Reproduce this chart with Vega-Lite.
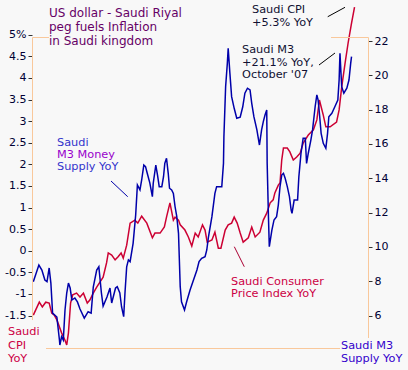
{
  "$schema": "https://vega.github.io/schema/vega-lite/v6.json",
  "autosize": {"type": "none"},
  "width": 336,
  "height": 344,
  "padding": {"left": 32.5, "top": 4.5, "right": 39.5, "bottom": 21.5},
  "background": "#f8f8f8",
  "config": {
    "view": {"stroke": null},
    "axis": {"translate": 0, "grid": false, "domain": false, "labelFont": "DejaVu Sans", "labelColor": "#000033", "tickColor": "#333333", "title": null, "labelOverlap": false, "labelFlush": false},
    "text": {"font": "DejaVu Sans"}
  },
  "datasets": {
    "cpi": [
      {"year": 2000.33, "cpi": -1.48}, {"year": 2000.47, "cpi": -1.18}, {"year": 2000.54, "cpi": -1.29}, {"year": 2000.62, "cpi": -1.18},
      {"year": 2000.70, "cpi": -1.20}, {"year": 2000.76, "cpi": -1.43}, {"year": 2000.82, "cpi": -1.48}, {"year": 2000.88, "cpi": -1.59},
      {"year": 2000.99, "cpi": -1.89}, {"year": 2001.07, "cpi": -2.06}, {"year": 2001.11, "cpi": -2.17}, {"year": 2001.15, "cpi": -1.89},
      {"year": 2001.20, "cpi": -1.20}, {"year": 2001.25, "cpi": -1.01}, {"year": 2001.34, "cpi": -0.97}, {"year": 2001.42, "cpi": -1.06},
      {"year": 2001.50, "cpi": -0.97}, {"year": 2001.59, "cpi": -1.20}, {"year": 2001.65, "cpi": -1.13}, {"year": 2001.73, "cpi": -0.97},
      {"year": 2001.81, "cpi": -0.83}, {"year": 2001.96, "cpi": -0.60}, {"year": 2002.04, "cpi": -0.27}, {"year": 2002.08, "cpi": -0.04},
      {"year": 2002.16, "cpi": -0.09}, {"year": 2002.24, "cpi": -0.20}, {"year": 2002.31, "cpi": -0.13}, {"year": 2002.38, "cpi": -0.04},
      {"year": 2002.43, "cpi": -0.16}, {"year": 2002.51, "cpi": 0.14}, {"year": 2002.59, "cpi": 0.65}, {"year": 2002.70, "cpi": 0.72},
      {"year": 2002.77, "cpi": 0.65}, {"year": 2002.86, "cpi": 0.81}, {"year": 2002.98, "cpi": 0.65}, {"year": 2003.11, "cpi": 0.31},
      {"year": 2003.17, "cpi": 0.42}, {"year": 2003.29, "cpi": 0.42}, {"year": 2003.39, "cpi": 0.56}, {"year": 2003.44, "cpi": 0.79},
      {"year": 2003.52, "cpi": 1.12}, {"year": 2003.60, "cpi": 0.72}, {"year": 2003.64, "cpi": 0.79}, {"year": 2003.72, "cpi": 0.72},
      {"year": 2003.76, "cpi": 0.61}, {"year": 2003.87, "cpi": 0.49}, {"year": 2003.95, "cpi": 0.33}, {"year": 2004.03, "cpi": 0.12},
      {"year": 2004.11, "cpi": 0.42}, {"year": 2004.18, "cpi": 0.33}, {"year": 2004.28, "cpi": 0.61}, {"year": 2004.34, "cpi": 0.49},
      {"year": 2004.39, "cpi": 0.21}, {"year": 2004.50, "cpi": 0.26}, {"year": 2004.57, "cpi": 0.44}, {"year": 2004.65, "cpi": 0.07},
      {"year": 2004.71, "cpi": 0.07}, {"year": 2004.81, "cpi": 0.49}, {"year": 2004.88, "cpi": 0.61}, {"year": 2004.96, "cpi": 0.65},
      {"year": 2005.02, "cpi": 0.79}, {"year": 2005.09, "cpi": 0.65}, {"year": 2005.16, "cpi": 0.42}, {"year": 2005.23, "cpi": 0.21},
      {"year": 2005.35, "cpi": 0.31}, {"year": 2005.43, "cpi": 0.56}, {"year": 2005.51, "cpi": 0.33}, {"year": 2005.62, "cpi": 0.44},
      {"year": 2005.70, "cpi": 0.72}, {"year": 2005.78, "cpi": 0.88}, {"year": 2005.86, "cpi": 1.12}, {"year": 2005.93, "cpi": 1.19},
      {"year": 2005.97, "cpi": 1.35}, {"year": 2006.05, "cpi": 1.53}, {"year": 2006.09, "cpi": 1.58}, {"year": 2006.13, "cpi": 2.11},
      {"year": 2006.17, "cpi": 2.39}, {"year": 2006.26, "cpi": 2.39}, {"year": 2006.32, "cpi": 2.30}, {"year": 2006.40, "cpi": 2.11},
      {"year": 2006.48, "cpi": 2.18}, {"year": 2006.56, "cpi": 2.27}, {"year": 2006.63, "cpi": 2.50}, {"year": 2006.75, "cpi": 2.69},
      {"year": 2006.87, "cpi": 2.81}, {"year": 2006.95, "cpi": 3.04}, {"year": 2007.01, "cpi": 3.50}, {"year": 2007.10, "cpi": 3.15},
      {"year": 2007.16, "cpi": 2.88}, {"year": 2007.26, "cpi": 2.88}, {"year": 2007.41, "cpi": 2.99}, {"year": 2007.47, "cpi": 3.27},
      {"year": 2007.53, "cpi": 3.80}, {"year": 2007.61, "cpi": 4.36}, {"year": 2007.68, "cpi": 4.82}, {"year": 2007.76, "cpi": 5.28},
      {"year": 2007.83, "cpi": 5.65}
    ],
    "m3": [
      {"year": 2000.33, "m3": 8.00}, {"year": 2000.46, "m3": 8.97}, {"year": 2000.53, "m3": 8.68}, {"year": 2000.60, "m3": 8.10},
      {"year": 2000.65, "m3": 8.00}, {"year": 2000.70, "m3": 8.80}, {"year": 2000.74, "m3": 7.92}, {"year": 2000.78, "m3": 6.17},
      {"year": 2000.88, "m3": 5.94}, {"year": 2000.94, "m3": 4.60}, {"year": 2000.95, "m3": 4.31}, {"year": 2000.99, "m3": 4.79},
      {"year": 2001.03, "m3": 4.60}, {"year": 2001.07, "m3": 6.35}, {"year": 2001.11, "m3": 7.34}, {"year": 2001.15, "m3": 7.92},
      {"year": 2001.19, "m3": 7.63}, {"year": 2001.23, "m3": 6.93}, {"year": 2001.30, "m3": 7.05}, {"year": 2001.36, "m3": 6.82},
      {"year": 2001.42, "m3": 6.41}, {"year": 2001.52, "m3": 5.88}, {"year": 2001.61, "m3": 6.25}, {"year": 2001.68, "m3": 6.17},
      {"year": 2001.73, "m3": 7.69}, {"year": 2001.81, "m3": 8.68}, {"year": 2001.86, "m3": 8.87}, {"year": 2001.92, "m3": 7.34},
      {"year": 2001.96, "m3": 6.58}, {"year": 2002.05, "m3": 7.11}, {"year": 2002.12, "m3": 7.63}, {"year": 2002.16, "m3": 6.76},
      {"year": 2002.25, "m3": 7.63}, {"year": 2002.29, "m3": 7.71}, {"year": 2002.35, "m3": 7.34}, {"year": 2002.39, "m3": 6.54},
      {"year": 2002.44, "m3": 5.96}, {"year": 2002.47, "m3": 7.34}, {"year": 2002.51, "m3": 8.87}, {"year": 2002.55, "m3": 9.27},
      {"year": 2002.59, "m3": 9.17}, {"year": 2002.66, "m3": 10.24}, {"year": 2002.72, "m3": 11.89}, {"year": 2002.76, "m3": 13.64},
      {"year": 2002.82, "m3": 13.35}, {"year": 2002.86, "m3": 13.93}, {"year": 2002.91, "m3": 14.80}, {"year": 2002.95, "m3": 14.71},
      {"year": 2002.99, "m3": 14.32}, {"year": 2003.05, "m3": 13.76}, {"year": 2003.11, "m3": 12.96}, {"year": 2003.13, "m3": 13.74},
      {"year": 2003.19, "m3": 14.80}, {"year": 2003.23, "m3": 14.22}, {"year": 2003.27, "m3": 13.54}, {"year": 2003.33, "m3": 13.54},
      {"year": 2003.37, "m3": 14.12}, {"year": 2003.40, "m3": 14.90}, {"year": 2003.44, "m3": 15.20}, {"year": 2003.48, "m3": 14.32},
      {"year": 2003.51, "m3": 13.45}, {"year": 2003.56, "m3": 13.35}, {"year": 2003.60, "m3": 13.15}, {"year": 2003.64, "m3": 12.37},
      {"year": 2003.68, "m3": 11.79}, {"year": 2003.72, "m3": 10.82}, {"year": 2003.74, "m3": 9.27}, {"year": 2003.76, "m3": 7.71},
      {"year": 2003.79, "m3": 6.83}, {"year": 2003.86, "m3": 6.35}, {"year": 2003.91, "m3": 6.83}, {"year": 2003.99, "m3": 7.52},
      {"year": 2004.07, "m3": 8.10}, {"year": 2004.15, "m3": 8.68}, {"year": 2004.20, "m3": 9.17}, {"year": 2004.26, "m3": 9.36},
      {"year": 2004.34, "m3": 9.46}, {"year": 2004.38, "m3": 9.85}, {"year": 2004.42, "m3": 10.62}, {"year": 2004.50, "m3": 11.79},
      {"year": 2004.57, "m3": 13.15}, {"year": 2004.61, "m3": 13.54}, {"year": 2004.73, "m3": 13.54}, {"year": 2004.77, "m3": 14.90},
      {"year": 2004.78, "m3": 16.45}, {"year": 2004.82, "m3": 19.37}, {"year": 2004.86, "m3": 20.73}, {"year": 2004.88, "m3": 21.61},
      {"year": 2004.92, "m3": 20.15}, {"year": 2004.96, "m3": 18.79}, {"year": 2005.02, "m3": 18.11}, {"year": 2005.08, "m3": 17.53},
      {"year": 2005.16, "m3": 17.59}, {"year": 2005.22, "m3": 18.20}, {"year": 2005.27, "m3": 18.99}, {"year": 2005.33, "m3": 19.28},
      {"year": 2005.39, "m3": 19.18}, {"year": 2005.43, "m3": 18.40}, {"year": 2005.48, "m3": 17.62}, {"year": 2005.55, "m3": 16.85},
      {"year": 2005.61, "m3": 15.97}, {"year": 2005.66, "m3": 16.85}, {"year": 2005.70, "m3": 17.33}, {"year": 2005.74, "m3": 17.72},
      {"year": 2005.78, "m3": 18.01}, {"year": 2005.79, "m3": 14.90}, {"year": 2005.82, "m3": 11.79}, {"year": 2005.84, "m3": 10.04},
      {"year": 2005.90, "m3": 11.01}, {"year": 2005.95, "m3": 11.60}, {"year": 2006.01, "m3": 11.79}, {"year": 2006.05, "m3": 12.47},
      {"year": 2006.09, "m3": 13.54}, {"year": 2006.13, "m3": 14.22}, {"year": 2006.17, "m3": 14.32}, {"year": 2006.21, "m3": 14.03},
      {"year": 2006.26, "m3": 13.54}, {"year": 2006.31, "m3": 12.96}, {"year": 2006.35, "m3": 12.18}, {"year": 2006.37, "m3": 11.99},
      {"year": 2006.42, "m3": 12.76}, {"year": 2006.50, "m3": 12.76}, {"year": 2006.53, "m3": 14.12}, {"year": 2006.58, "m3": 15.49},
      {"year": 2006.63, "m3": 16.36}, {"year": 2006.68, "m3": 16.36}, {"year": 2006.71, "m3": 14.90}, {"year": 2006.75, "m3": 15.49},
      {"year": 2006.81, "m3": 16.26}, {"year": 2006.85, "m3": 16.85}, {"year": 2006.91, "m3": 18.20}, {"year": 2006.95, "m3": 18.89},
      {"year": 2006.98, "m3": 18.59}, {"year": 2007.01, "m3": 17.82}, {"year": 2007.05, "m3": 16.65}, {"year": 2007.10, "m3": 16.07},
      {"year": 2007.16, "m3": 15.78}, {"year": 2007.20, "m3": 16.65}, {"year": 2007.23, "m3": 17.62}, {"year": 2007.30, "m3": 17.82},
      {"year": 2007.37, "m3": 18.20}, {"year": 2007.44, "m3": 18.59}, {"year": 2007.47, "m3": 19.76}, {"year": 2007.49, "m3": 21.32},
      {"year": 2007.53, "m3": 19.37}, {"year": 2007.58, "m3": 18.99}, {"year": 2007.65, "m3": 19.28}, {"year": 2007.70, "m3": 19.76},
      {"year": 2007.74, "m3": 20.73}, {"year": 2007.76, "m3": 21.12}
    ]
  },
  "resolve": {"scale": {"y": "independent"}},
  "layer": [
    {
      "data": {"name": "cpi"},
      "mark": {"type": "line", "color": "#cc0033", "strokeWidth": 1.5},
      "encoding": {
        "x": {"field": "year", "type": "quantitative", "scale": {"domain": [2000.311, 2008.156], "nice": false, "zero": false},
              "axis": {"values": [2001, 2002, 2003, 2004, 2005, 2006, 2007], "format": "d", "tickSize": 3, "labelPadding": 2, "labelFontSize": 10.5}},
        "y": {"field": "cpi", "type": "quantitative", "scale": {"domain": [-2.252, 5.711], "nice": false, "zero": false},
              "axis": {"orient": "left", "values": [-1.5, -1, -0.5, 0, 0.5, 1, 1.5, 2, 2.5, 3, 3.5, 4, 4.5, 5], "tickSize": 4, "labelPadding": 2, "labelFontSize": 11,
                       "labelExpr": "datum.value == 5 ? '5%' : (datum.value < 0 ? '-' : '') + format(abs(datum.value), '')"}}
      }
    },
    {
      "data": {"name": "m3"},
      "mark": {"type": "line", "color": "#0000aa", "strokeWidth": 1.5},
      "encoding": {
        "x": {"field": "year", "type": "quantitative", "scale": {"domain": [2000.311, 2008.156], "nice": false, "zero": false}},
        "y": {"field": "m3", "type": "quantitative", "scale": {"domain": [4.105, 24.163], "nice": false, "zero": false},
              "axis": {"orient": "right", "values": [6, 8, 10, 12, 14, 16, 18, 20, 22], "format": "d", "tickSize": 4, "labelPadding": 2, "labelFontSize": 11}}
      }
    },
    {
      "data": {"values": [{}]},
      "layer": [
        {"mark": {"type": "rule", "color": "#f9c89b", "strokeWidth": 1},
         "encoding": {"x": {"datum": 2000.311, "type": "quantitative", "scale": {"domain": [2000.311, 2008.156], "nice": false, "zero": false}, "axis": null},
                      "y": {"datum": 4.947, "type": "quantitative", "scale": {"domain": [-2.252, 5.711], "nice": false, "zero": false}, "axis": null},
                      "y2": {"datum": -1.593}}},
        {"mark": {"type": "rule", "color": "#f9c89b", "strokeWidth": 1},
         "encoding": {"x": {"datum": 2008.156, "type": "quantitative", "axis": null},
                      "y": {"datum": 4.947, "type": "quantitative", "axis": null},
                      "y2": {"datum": -2.009}}},
        {"mark": {"type": "rule", "color": "#f9c89b", "strokeWidth": 1},
         "encoding": {"x": {"datum": 2000.626, "type": "quantitative", "axis": null},
                      "x2": {"datum": 2007.491},
                      "y": {"datum": -2.252, "type": "quantitative", "axis": null}}},
        {"mark": {"type": "rule", "color": "#f9c89b", "strokeWidth": 1},
         "encoding": {"x": {"datum": 2000.311, "type": "quantitative", "axis": null},
                      "x2": {"datum": 2000.696},
                      "y": {"datum": 4.947, "type": "quantitative", "axis": null}}},
        {"mark": {"type": "rule", "color": "#f9c89b", "strokeWidth": 1},
         "encoding": {"x": {"datum": 2007.281, "type": "quantitative", "axis": null},
                      "x2": {"datum": 2008.156},
                      "y": {"datum": 4.947, "type": "quantitative", "axis": null}}},
        {"mark": {"type": "rule", "color": "#000000", "strokeWidth": 1},
         "encoding": {"x": {"datum": 2007.204, "type": "quantitative", "axis": null}, "x2": {"datum": 2007.608},
                      "y": {"datum": 5.428, "type": "quantitative", "axis": null}, "y2": {"datum": 5.646}}},
        {"mark": {"type": "rule", "color": "#000000", "strokeWidth": 1},
         "encoding": {"x": {"datum": 2007.0, "type": "quantitative", "axis": null}, "x2": {"datum": 2007.374},
                      "y": {"datum": 4.31, "type": "quantitative", "axis": null}, "y2": {"datum": 4.588}}},
        {"mark": {"type": "rule", "color": "#0000aa", "strokeWidth": 1},
         "encoding": {"x": {"datum": 2002.144, "type": "quantitative", "axis": null}, "x2": {"datum": 2002.534},
                      "y": {"datum": 1.625, "type": "quantitative", "axis": null}, "y2": {"datum": 1.262}}},
        {"mark": {"type": "rule", "color": "#aa0033", "strokeWidth": 1},
         "encoding": {"x": {"datum": 2005.023, "type": "quantitative", "axis": null}, "x2": {"datum": 2005.256},
                      "y": {"datum": 0.104, "type": "quantitative", "axis": null}, "y2": {"datum": -0.359}}},
        {"mark": {"type": "text", "text": ["US dollar - Saudi Riyal", "peg fuels Inflation", "in Saudi kingdom"], "align": "left", "baseline": "alphabetic", "fontSize": 12, "lineHeight": 14, "color": "#660066"},
         "encoding": {"x": {"datum": 2000.696, "type": "quantitative", "axis": null}, "y": {"datum": 5.421, "type": "quantitative", "axis": null}}},
        {"mark": {"type": "text", "text": ["Saudi CPI", "+5.3% YoY"], "align": "left", "baseline": "alphabetic", "fontSize": 11.3, "lineHeight": 13.3, "color": "#111133"},
         "encoding": {"x": {"datum": 2005.436, "type": "quantitative", "axis": null}, "y": {"datum": 5.525, "type": "quantitative", "axis": null}}},
        {"mark": {"type": "text", "text": ["Saudi M3", "+21.1% YoY,", "October '07"], "align": "left", "baseline": "alphabetic", "fontSize": 11.3, "lineHeight": 12.5, "color": "#111133"},
         "encoding": {"x": {"datum": 2005.203, "type": "quantitative", "axis": null}, "y": {"datum": 4.581, "type": "quantitative", "axis": null}}},
        {"mark": {"type": "text", "text": "Saudi", "align": "left", "baseline": "alphabetic", "fontSize": 11.3, "color": "#3333cc"},
         "encoding": {"x": {"datum": 2000.883, "type": "quantitative", "axis": null}, "y": {"datum": 2.435, "type": "quantitative", "axis": null}}},
        {"mark": {"type": "text", "text": "M3 Money", "align": "left", "baseline": "alphabetic", "fontSize": 11.3, "color": "#9900cc"},
         "encoding": {"x": {"datum": 2000.883, "type": "quantitative", "axis": null}, "y": {"datum": 2.157, "type": "quantitative", "axis": null}}},
        {"mark": {"type": "text", "text": "Supply YoY", "align": "left", "baseline": "alphabetic", "fontSize": 11.3, "color": "#3333cc"},
         "encoding": {"x": {"datum": 2000.883, "type": "quantitative", "axis": null}, "y": {"datum": 1.88, "type": "quantitative", "axis": null}}},
        {"mark": {"type": "text", "text": ["Saudi Consumer", "Price Index YoY"], "align": "left", "baseline": "alphabetic", "fontSize": 11.3, "lineHeight": 12.3, "color": "#cc0044"},
         "encoding": {"x": {"datum": 2004.946, "type": "quantitative", "axis": null}, "y": {"datum": -0.782, "type": "quantitative", "axis": null}}},
        {"mark": {"type": "text", "text": ["Saudi", "CPI", "YoY"], "align": "left", "baseline": "alphabetic", "fontSize": 11.3, "lineHeight": 13.6, "color": "#cc0044"},
         "encoding": {"x": {"datum": 1999.739, "type": "quantitative", "axis": null}, "y": {"datum": -1.94, "type": "quantitative", "axis": null}}},
        {"mark": {"type": "text", "text": ["Saudi M3", "Supply YoY"], "align": "left", "baseline": "alphabetic", "fontSize": 11.3, "lineHeight": 12.4, "color": "#3300cc"},
         "encoding": {"x": {"datum": 2007.514, "type": "quantitative", "axis": null}, "y": {"datum": -2.271, "type": "quantitative", "axis": null}}}
      ]
    }
  ]
}
